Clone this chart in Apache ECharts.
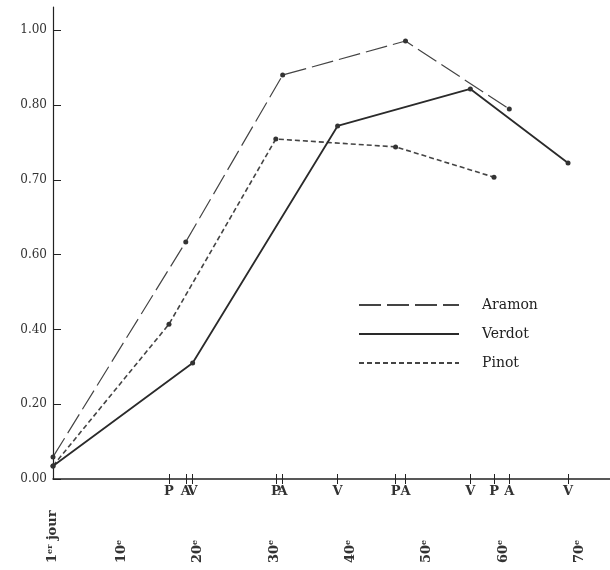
<!DOCTYPE html>
<html>
<head>
<meta charset="utf-8">
<script src="https://cdn.jsdelivr.net/npm/echarts@6/dist/echarts.min.js"></script>
<style>
html,body{margin:0;padding:0;background:#fff;}
#chart{width:610px;height:570px;}
</style>
</head>
<body>
<div id="chart"></div>
<script>
// Days (x) and values (in axis-position units; tick labels mapped below)
const aramonDays  = [1, 18.4, 31.1, 47.2, 60.8];
const aramonVals  = [0.059, 0.634, 1.080, 1.171, 0.989];
const verdotDays  = [1, 19.3, 38.3, 55.7, 68.5];
const verdotVals  = [0.035, 0.310, 0.944, 1.043, 0.845];
const pinotDays   = [1, 16.2, 30.2, 45.9, 58.8];
const pinotVals   = [0.035, 0.414, 0.909, 0.888, 0.807];

const seriesNames = ['Aramon', 'Verdot', 'Pinot'];
const harvestLetters = ['A', 'V', 'P'];

const yTickValues = [0, 0.2, 0.4, 0.6, 0.8, 1.0, 1.2];
const yTickLabels = ['0.00', '0.20', '0.40', '0.60', '0.70', '0.80', '1.00'];

const dayTickValues = [1, 10, 20, 30, 40, 50, 60, 70];
const dayTickLabels = ['1{s|er} jour', '10{s|e}', '20{s|e}', '30{s|e}', '40{s|e}', '50{s|e}', '60{s|e}', '70{s|e}'];

const allDays = [aramonDays, verdotDays, pinotDays];
const allVals = [aramonVals, verdotVals, pinotVals];

// harvest ticks: every point after the first day
const harvest = [];
allDays.forEach((days, i) => days.slice(1).forEach(d => harvest.push({d: d, l: harvestLetters[i]})));
const harvestDays = harvest.map(h => h.d);
function harvestLabel(v) {
  let best = null, bd = 1e9;
  harvest.forEach(h => { const dd = Math.abs(h.d - v); if (dd < bd) { bd = dd; best = h; } });
  return best && bd < 0.01 ? best.l : '';
}

const serif = 'DejaVu Serif';
const ink = '#333';

const styles = [
  {lineStyle: {color: '#444', width: 1.2, type: [22, 6]}},
  {lineStyle: {color: '#2a2a2a', width: 1.8, type: 'solid'}},
  {lineStyle: {color: '#444', width: 1.6, type: [5, 3]}}
];

const series = seriesNames.map((name, i) => ({
  name: name,
  type: 'line',
  xAxisIndex: 0,
  yAxisIndex: 0,
  data: allDays[i].map((d, k) => [d, allVals[i][k]]),
  symbol: 'circle',
  symbolSize: 5,
  itemStyle: {color: '#333'},
  lineStyle: styles[i].lineStyle,
  animation: false,
  z: 3 - i
}));

const chart = echarts.init(document.getElementById('chart'), null, {renderer: 'canvas'});
chart.setOption({
  backgroundColor: '#fff',
  animation: false,
  grid: {left: 53, right: 0, top: 7, bottom: 91, containLabel: false},
  legend: {
    orient: 'vertical',
    left: 353,
    top: 293,
    itemWidth: 100,
    itemHeight: 14,
    itemGap: 15,
    itemStyle: {color: 'rgba(0,0,0,0)', borderWidth: 0, opacity: 0},
    textStyle: {fontFamily: serif, fontSize: 14, color: '#222', padding: [0, 0, 0, 18]},
    data: seriesNames
  },
  xAxis: [
    {
      type: 'value', min: 1, max: 74, position: 'bottom',
      splitLine: {show: false},
      axisLine: {show: true, lineStyle: {color: '#222', width: 1.5}},
      axisTick: {show: true, customValues: harvestDays, length: 5, inside: false, lineStyle: {color: '#222'}},
      axisLabel: {
        show: true, customValues: harvestDays, margin: 6,
        formatter: v => harvestLabel(v),
        fontFamily: serif, fontSize: 13, fontWeight: 'bold', color: ink
      }
    },
    {
      type: 'value', min: 1, max: 74, position: 'bottom', offset: 0,
      splitLine: {show: false},
      axisLine: {show: false},
      axisTick: {show: true, customValues: harvestDays, length: 5, inside: true, lineStyle: {color: '#222'}},
      axisLabel: {show: false}
    },
    {
      type: 'value', min: 1, max: 74, position: 'bottom', offset: 84,
      splitLine: {show: false},
      axisLine: {show: false},
      axisTick: {show: false},
      axisLabel: {
        show: true, customValues: dayTickValues, rotate: 90, margin: 0,
        align: 'left', verticalAlign: 'middle',
        formatter: v => dayTickLabels[dayTickValues.indexOf(v)] || '',
        fontFamily: serif, fontSize: 13, fontWeight: 'bold', color: ink,
        rich: {s: {fontFamily: serif, fontSize: 8, fontWeight: 'bold', color: ink, verticalAlign: 'top', padding: [0, 0, 6, 0]}}
      }
    }
  ],
  yAxis: {
    type: 'value', min: 0, max: 1.262,
    splitLine: {show: false},
    axisLine: {show: true, lineStyle: {color: '#222', width: 1.2}},
    axisTick: {show: true, customValues: yTickValues, inside: true, length: 8, lineStyle: {color: '#222'}},
    axisLabel: {
      show: true, customValues: yTickValues, margin: 6,
      formatter: v => yTickLabels[Math.round(v / 0.2)] || '',
      fontFamily: serif, fontSize: 12, color: ink
    }
  },
  series: series
});
</script>
</body>
</html>
